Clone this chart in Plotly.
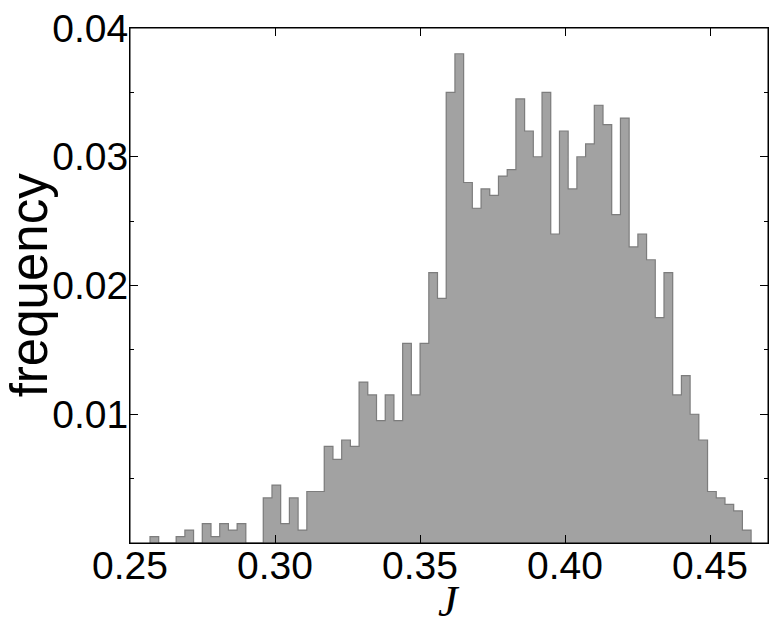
import numpy as np
import plotly.graph_objects as go

# ---- data (N = 2000 samples) ----
counts = [1, 0, 0, 1, 2, 0, 3, 1, 3, 2, 3, 0, 0, 7, 9, 3, 7, 2, 8, 8,
          15, 13, 16, 15, 25, 23, 19, 23, 19, 31, 23, 31, 42, 38, 70, 76,
          56, 52, 55, 54, 57, 58, 69, 64, 60, 70, 48, 64, 55, 60, 62, 68,
          65, 51, 66, 46, 48, 44, 35, 42, 23, 26, 20, 16, 8, 7, 6, 5, 2]
n_samples = 2000
bin_start = 0.2569
bin_width = 0.003004
x_ticks = [0.25, 0.30, 0.35, 0.40, 0.45]
x_tick_labels = ["0.25", "0.30", "0.35", "0.40", "0.45"]
y_ticks = [0.01, 0.02, 0.03, 0.04]
y_tick_labels = ["0.01", "0.02", "0.03", "0.04"]
y_minor_ticks = [0.005, 0.015, 0.025, 0.035]
x_label = "J"
y_label = "frequency"

freq = np.array(counts) / n_samples
edges = bin_start + bin_width * np.arange(len(counts) + 1)
centers = (edges[:-1] + edges[1:]) / 2

fig = go.Figure()
fig.add_trace(go.Bar(x=centers, y=freq, width=bin_width,
                     marker=dict(color="#a2a2a2", line=dict(width=0)),
                     showlegend=False, hoverinfo="x+y"))
step_x = [edges[0]] + list(edges[:-1]) + [edges[-1]]
step_y = [0] + list(freq) + [0]
fig.add_trace(go.Scatter(x=step_x, y=step_y, mode="lines", line_shape="hv",
                         line=dict(color="#7d7d7d", width=1.2),
                         showlegend=False, hoverinfo="skip"))

tick_font = dict(family="Liberation Sans, Arial, sans-serif", size=39, color="black")
fig.update_layout(
    width=776, height=626,
    margin=dict(l=130, r=7, t=19, b=83),
    paper_bgcolor="white", plot_bgcolor="white",
    bargap=0,
    xaxis=dict(range=[0.25, 0.47], showgrid=False, zeroline=False,
               showline=True, linecolor="black", linewidth=1, mirror="ticks",
               ticks="inside", ticklen=8, tickcolor="black", tickwidth=1,
               tickmode="array", tickvals=x_ticks, ticktext=x_tick_labels,
               tickfont=tick_font, ticklabelstandoff=-12,
               ticklabeloverflow="allow"),
    yaxis=dict(range=[0, 0.0400005], showgrid=False, zeroline=False,
               showline=True, linecolor="black", linewidth=1, mirror="ticks",
               ticks="inside", ticklen=8, tickcolor="black", tickwidth=1,
               tickmode="array", tickvals=y_ticks, ticktext=y_tick_labels,
               tickfont=tick_font, ticklabelstandoff=-7,
               ticklabeloverflow="allow",
               minor=dict(tickmode="array", tickvals=y_minor_ticks,
                          ticks="inside", ticklen=4, tickcolor="black")),
    shapes=[dict(type="rect", xref="paper", yref="paper", x0=0, x1=1, y0=0, y1=1,
                 line=dict(color="black", width=1), fillcolor="rgba(0,0,0,0)",
                 layer="above")],
    annotations=[
        dict(text=y_label, xref="paper", yref="paper", x=-0.157, y=0.5,
             xanchor="center", yanchor="middle", textangle=-90, showarrow=False,
             font=dict(family="Liberation Sans, Arial, sans-serif", size=51, color="black")),
        dict(text="<i>" + x_label + "</i>", xref="paper", yref="paper", x=0.5, y=-0.062,
             xanchor="center", yanchor="top", showarrow=False,
             font=dict(family="Liberation Serif, Times New Roman, serif", size=44, color="black")),
    ],
)
fig.write_html("out.html", config={"displayModeBar": False},
               post_script="document.body.style.margin='0';")
